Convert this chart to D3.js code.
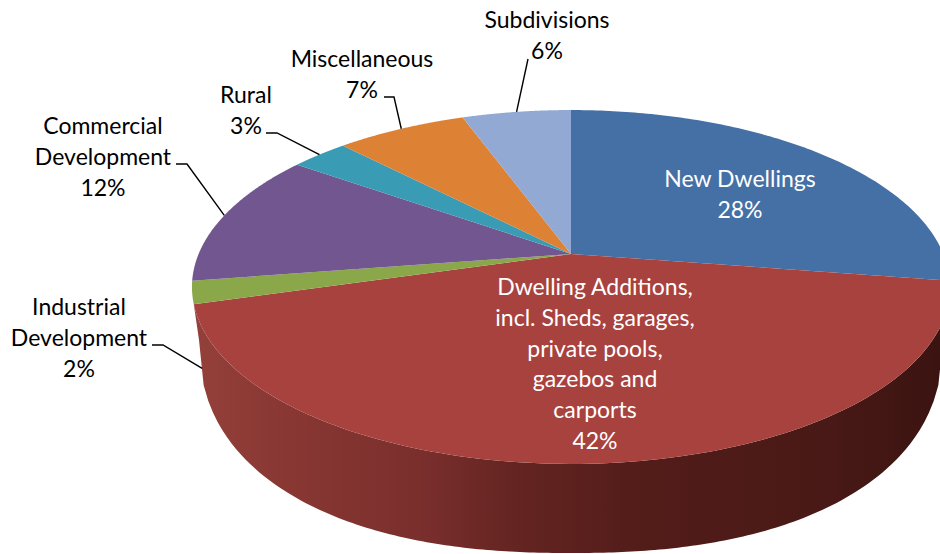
<!DOCTYPE html>
<html>
<head>
<meta charset="utf-8">
<script src="https://cdn.jsdelivr.net/npm/d3@7/dist/d3.min.js"></script>
<style>
  html, body { margin: 0; padding: 0; background: #fff; }
  svg { display: block; }
  text { font-family: Lato, "Open Sans", sans-serif; font-size: 23px; }
</style>
</head>
<body>
<svg id="chart" width="940" height="554"></svg>
<script>
// Share of development applications by category, clockwise from twelve o'clock.
const categories = ["New Dwellings", "Dwelling Additions, incl. Sheds, garages, private pools, gazebos and carports",
  "Industrial Development", "Commercial Development", "Rural", "Miscellaneous", "Subdivisions"];
const shares = [28, 42, 2, 12, 3, 7, 6];
const sliceColors = ["#4570a6", "#a8423f", "#8aa84a", "#71568f", "#3a9cb4", "#dd8135", "#92a9d4"];
const labelLines = [
  ["New Dwellings"],
  ["Dwelling Additions,", "incl. Sheds, garages,", "private pools,", "gazebos and", "carports"],
  ["Industrial", "Development"],
  ["Commercial", "Development"],
  ["Rural"],
  ["Miscellaneous"],
  ["Subdivisions"]
];

// Label placement: block centre, first baseline, colour, leader elbow.
const labelLayout = [
  { x: 740, y: 187, fill: "#fff" },
  { x: 595, y: 295, fill: "#fff" },
  { x: 79, y: 315, fill: "#000", elbow: [[152, 345], [163, 345]], drop: [10, 76] },
  { x: 103, y: 134, fill: "#000", elbow: [[176, 164], [187, 164]] },
  { x: 246, y: 103, fill: "#000", elbow: [[266, 133], [277, 133]] },
  { x: 362, y: 67, fill: "#000", elbow: [[384, 97], [394, 97]] },
  { x: 547, y: 28, fill: "#000", elbow: [[528, 59]] }
];
const lineStep = 30.8;

const svg = d3.select("#chart");

// Camera model: a tilted disc seen in perspective.
const cx = 571, cy = 254;
const spanX = 372.4, spanY = 170.8, depth = 0.1864;

function lens(a) {
  return a - 0.0436 * Math.sin(a) - 0.0175 * Math.sin(2 * a);
}
function rim(angle) {
  const a = lens(angle);
  const u = Math.sin(a), v = -Math.cos(a), w = 1 - depth * v;
  return [cx + spanX * u / w, cy + spanY * v / w];
}

const pie = d3.pie().value(d => d).sort(null)(shares);

const sweep = (from, to) => d3.range(0, 121).map(i => rim(from + (to - from) * i / 120));
const line = d3.line();

// Side wall of the disc, following the lower outline below the visible rim.
const wallLeft = 199, wallRight = 943;
const wallHalf = (wallRight - wallLeft) / 2, wallY = 340, wallDrop = 213, wallPow = 2.3;
const wallX = d3.scaleLinear().domain([0, 160]).range([wallLeft, wallRight]);
const lowerEdge = d3.range(0, 161).map(i => {
  const x = wallX(i);
  const t = Math.min(1, Math.abs(x - cx) / wallHalf);
  return [x, wallY + wallDrop * Math.pow(1 - Math.pow(t, wallPow), 1 / wallPow)];
});

const defs = svg.append("defs");
const wallGrad = defs.append("linearGradient")
  .attr("id", "wall").attr("gradientUnits", "userSpaceOnUse")
  .attr("x1", 195).attr("x2", 945).attr("y1", 0).attr("y2", 0);
[[0, "#94403a"], [0.12, "#893733"], [0.3, "#7a2f2d"], [0.42, "#652522"], [0.6, "#521c19"], [0.85, "#481916"], [1, "#3a1310"]]
  .forEach(([o, c]) => wallGrad.append("stop").attr("offset", o).attr("stop-color", c));

const red = pie[1];
svg.append("path")
  .attr("d", line([...sweep(red.startAngle, red.endAngle), ...lowerEdge]) + "Z")
  .attr("fill", "url(#wall)");

// Top face of the disc.
svg.append("g").selectAll("path").data(pie).join("path")
  .attr("d", d => line([[cx, cy], ...sweep(d.startAngle, d.endAngle)]) + "Z")
  .attr("fill", (d, i) => sliceColors[i]);

// Leader lines from each outside label to its slice.
svg.append("g").selectAll("path").data(pie.filter((d, i) => labelLayout[i].elbow)).join("path")
  .attr("d", d => {
    const lay = labelLayout[d.index];
    const end = rim((d.startAngle + d.endAngle) / 2);
    const drop = lay.drop || [0, 0];
    return line([...lay.elbow, [end[0] + drop[0], end[1] + drop[1]]]);
  })
  .attr("fill", "none").attr("stroke", "#000").attr("stroke-width", 1.4);

// Category names with their percentage on the last line.
const labels = svg.append("g").selectAll("text").data(pie).join("text")
  .attr("text-anchor", "middle")
  .attr("fill", (d, i) => labelLayout[i].fill);
labels.selectAll("tspan")
  .data((d, i) => [...labelLines[i], shares[i] + "%"].map((t, k) => ({ t, k, lay: labelLayout[i] })))
  .join("tspan")
  .attr("x", d => d.lay.x)
  .attr("y", d => d.lay.y + d.k * lineStep)
  .text(d => d.t);
</script>
</body>
</html>
